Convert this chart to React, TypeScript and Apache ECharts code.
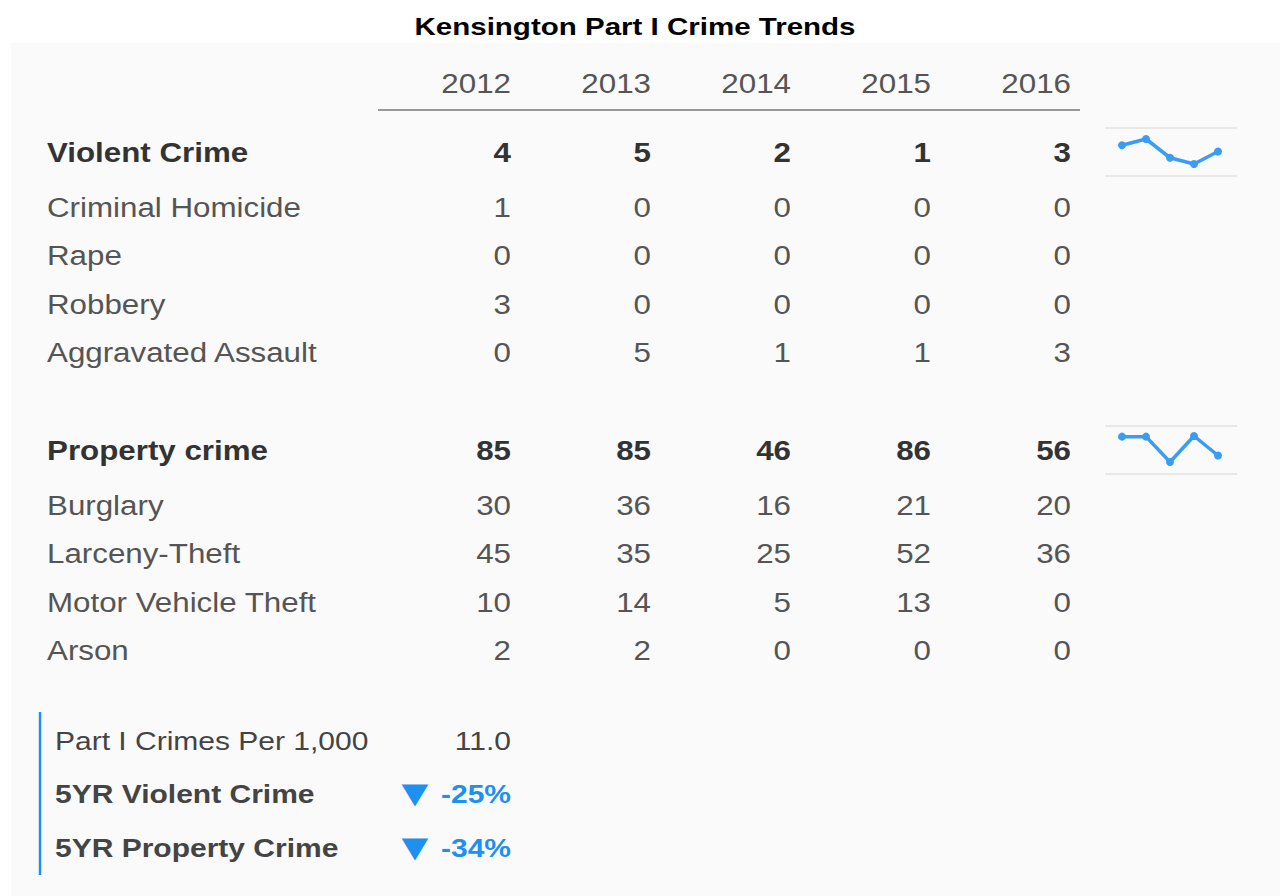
import React, { useEffect, useRef } from "react";
import * as echarts from "echarts";

// ---------- data ----------
const title = "Kensington Part I Crime Trends";
const years = ["2012", "2013", "2014", "2015", "2016"];

const violentLabel = "Violent Crime";
const violentTotals = [4, 5, 2, 1, 3];
const violentRowLabels = ["Criminal Homicide", "Rape", "Robbery", "Aggravated Assault"];
const criminalHomicide = [1, 0, 0, 0, 0];
const rape = [0, 0, 0, 0, 0];
const robbery = [3, 0, 0, 0, 0];
const aggravatedAssault = [0, 5, 1, 1, 3];

const propertyLabel = "Property crime";
const propertyTotals = [85, 85, 46, 86, 56];
const propertyRowLabels = ["Burglary", "Larceny-Theft", "Motor Vehicle Theft", "Arson"];
const burglary = [30, 36, 16, 21, 20];
const larcenyTheft = [45, 35, 25, 52, 36];
const motorVehicleTheft = [10, 14, 5, 13, 0];
const arson = [2, 2, 0, 0, 0];

const summaryLabels = ["Part I Crimes Per 1,000", "5YR Violent Crime", "5YR Property Crime"];
const crimesPer1000 = 11.0;
const fiveYrViolentChange = -25;
const fiveYrPropertyChange = -34;

// ---------- styling ----------
const FONT = '"Liberation Sans", Arial, Helvetica, sans-serif';
const SX = 1.16;
const SX_BOTTOM = 1.2;
const DARK = "#333333";
const MID = "#555555";
const BLUE = "#1e90f0";
const SPARK = "#3a9cf2";

function txt(
  text: string,
  x: number,
  y: number,
  opts: { size: number; bold?: boolean; color: string; align: string; sx?: number; family?: string }
) {
  const font = `${opts.bold ? "bold " : ""}${opts.size}px ${opts.family ?? FONT}`;
  return {
    type: "text",
    x,
    y,
    scaleX: opts.sx ?? SX,
    z: 100,
    style: {
      text,
      x: 0,
      y: 0,
      font,
      fill: opts.color,
      align: opts.align,
      verticalAlign: "middle",
      textAlign: opts.align,
      textVerticalAlign: "middle",
    },
  };
}

export default function App() {
  const ref = useRef<HTMLDivElement>(null);

  useEffect(() => {
    if (!ref.current) return;
    const chart = echarts.init(ref.current, undefined, { renderer: "svg" });

    const colX = (i: number) => 511 + i * 140;
    const labelX = 47;
    const g: any[] = [];

    // background panel
    g.push({
      type: "rect",
      z: -10,
      shape: { x: 11, y: 43, width: 1269, height: 853 },
      style: { fill: "#fafafa" },
    });

    // title
    g.push(txt(title, 635, 27, { size: 24, bold: true, color: "#000", align: "center", sx: 1.23 }));

    // year header
    years.forEach((yr, i) => g.push(txt(yr, colX(i), 84, { size: 27, color: MID, align: "right" })));
    g.push({
      type: "line",
      z: 50,
      shape: { x1: 378, y1: 110, x2: 1080, y2: 110 },
      style: { stroke: "#999999", lineWidth: 2 },
    });

    const sections = [
      {
        label: violentLabel,
        totals: violentTotals,
        rows: violentRowLabels,
        values: [criminalHomicide, rape, robbery, aggravatedAssault],
        y: 152.5,
      },
      {
        label: propertyLabel,
        totals: propertyTotals,
        rows: propertyRowLabels,
        values: [burglary, larcenyTheft, motorVehicleTheft, arson],
        y: 450.5,
      },
    ];

    sections.forEach((s) => {
      g.push(txt(s.label, labelX, s.y, { size: 27, bold: true, color: DARK, align: "left" }));
      s.totals.forEach((v, i) =>
        g.push(txt(String(v), colX(i), s.y, { size: 27, bold: true, color: DARK, align: "right" }))
      );
      s.rows.forEach((r, ri) => {
        const ry = s.y + 55.5 + ri * 48.2;
        g.push(txt(r, labelX, ry, { size: 27, color: MID, align: "left" }));
        s.values[ri].forEach((v, i) =>
          g.push(txt(String(v), colX(i), ry, { size: 27, color: MID, align: "right" }))
        );
      });
      // sparkline guide lines
      [s.y - 24.5, s.y + 23.5].forEach((ly) =>
        g.push({
          type: "line",
          z: 1,
          shape: { x1: 1105, y1: ly, x2: 1237, y2: ly },
          style: { stroke: "#e8e8e8", lineWidth: 2 },
        })
      );
    });

    // summary block
    g.push({
      type: "line",
      z: 50,
      shape: { x1: 40, y1: 712, x2: 40, y2: 875 },
      style: { stroke: BLUE, lineWidth: 2.5 },
    });
    const sumY = [741, 794.5, 848];
    g.push(txt(summaryLabels[0], 55, sumY[0], { size: 25, color: "#444", align: "left", sx: SX_BOTTOM }));
    g.push(txt(crimesPer1000.toFixed(1), 511, sumY[0], { size: 25, color: "#444", align: "right", sx: SX_BOTTOM }));
    [fiveYrViolentChange, fiveYrPropertyChange].forEach((v, k) => {
      g.push(txt(summaryLabels[k + 1], 55, sumY[k + 1], { size: 25, bold: true, color: "#444", align: "left", sx: SX_BOTTOM }));
      g.push(
        txt(v < 0 ? "▼" : "▲", 415, sumY[k + 1] - 1, {
          size: 29,
          color: BLUE,
          align: "center",
          sx: 1.2,
          family: '"DejaVu Sans", sans-serif',
        })
      );
      g.push(txt(`${v}%`, 511, sumY[k + 1], { size: 25, bold: true, color: BLUE, align: "right", sx: SX_BOTTOM }));
    });

    const sparkSeries = (data: number[], idx: number) => ({
      type: "line",
      xAxisIndex: idx,
      yAxisIndex: idx,
      data,
      symbol: "circle",
      symbolSize: 8,
      showSymbol: true,
      lineStyle: { color: SPARK, width: 3.5 },
      itemStyle: { color: SPARK },
      z: 20,
      silent: true,
    });

    chart.setOption({
      animation: false,
      backgroundColor: "#ffffff",
      grid: [
        { left: 1122, width: 96, top: 139, height: 25 },
        { left: 1122, width: 96, top: 436, height: 26 },
      ],
      xAxis: [0, 1].map((i) => ({
        type: "category",
        gridIndex: i,
        data: years,
        boundaryGap: false,
        show: false,
      })),
      yAxis: [0, 1].map((i) => ({
        type: "value",
        gridIndex: i,
        min: "dataMin",
        max: "dataMax",
        show: false,
      })),
      series: [sparkSeries(violentTotals, 0), sparkSeries(propertyTotals, 1)],
      graphic: g,
    });

    return () => chart.dispose();
  }, []);

  return (
    <div
      ref={ref}
      style={{ position: "absolute", left: 0, top: 0, width: 1280, height: 896 }}
    />
  );
}
